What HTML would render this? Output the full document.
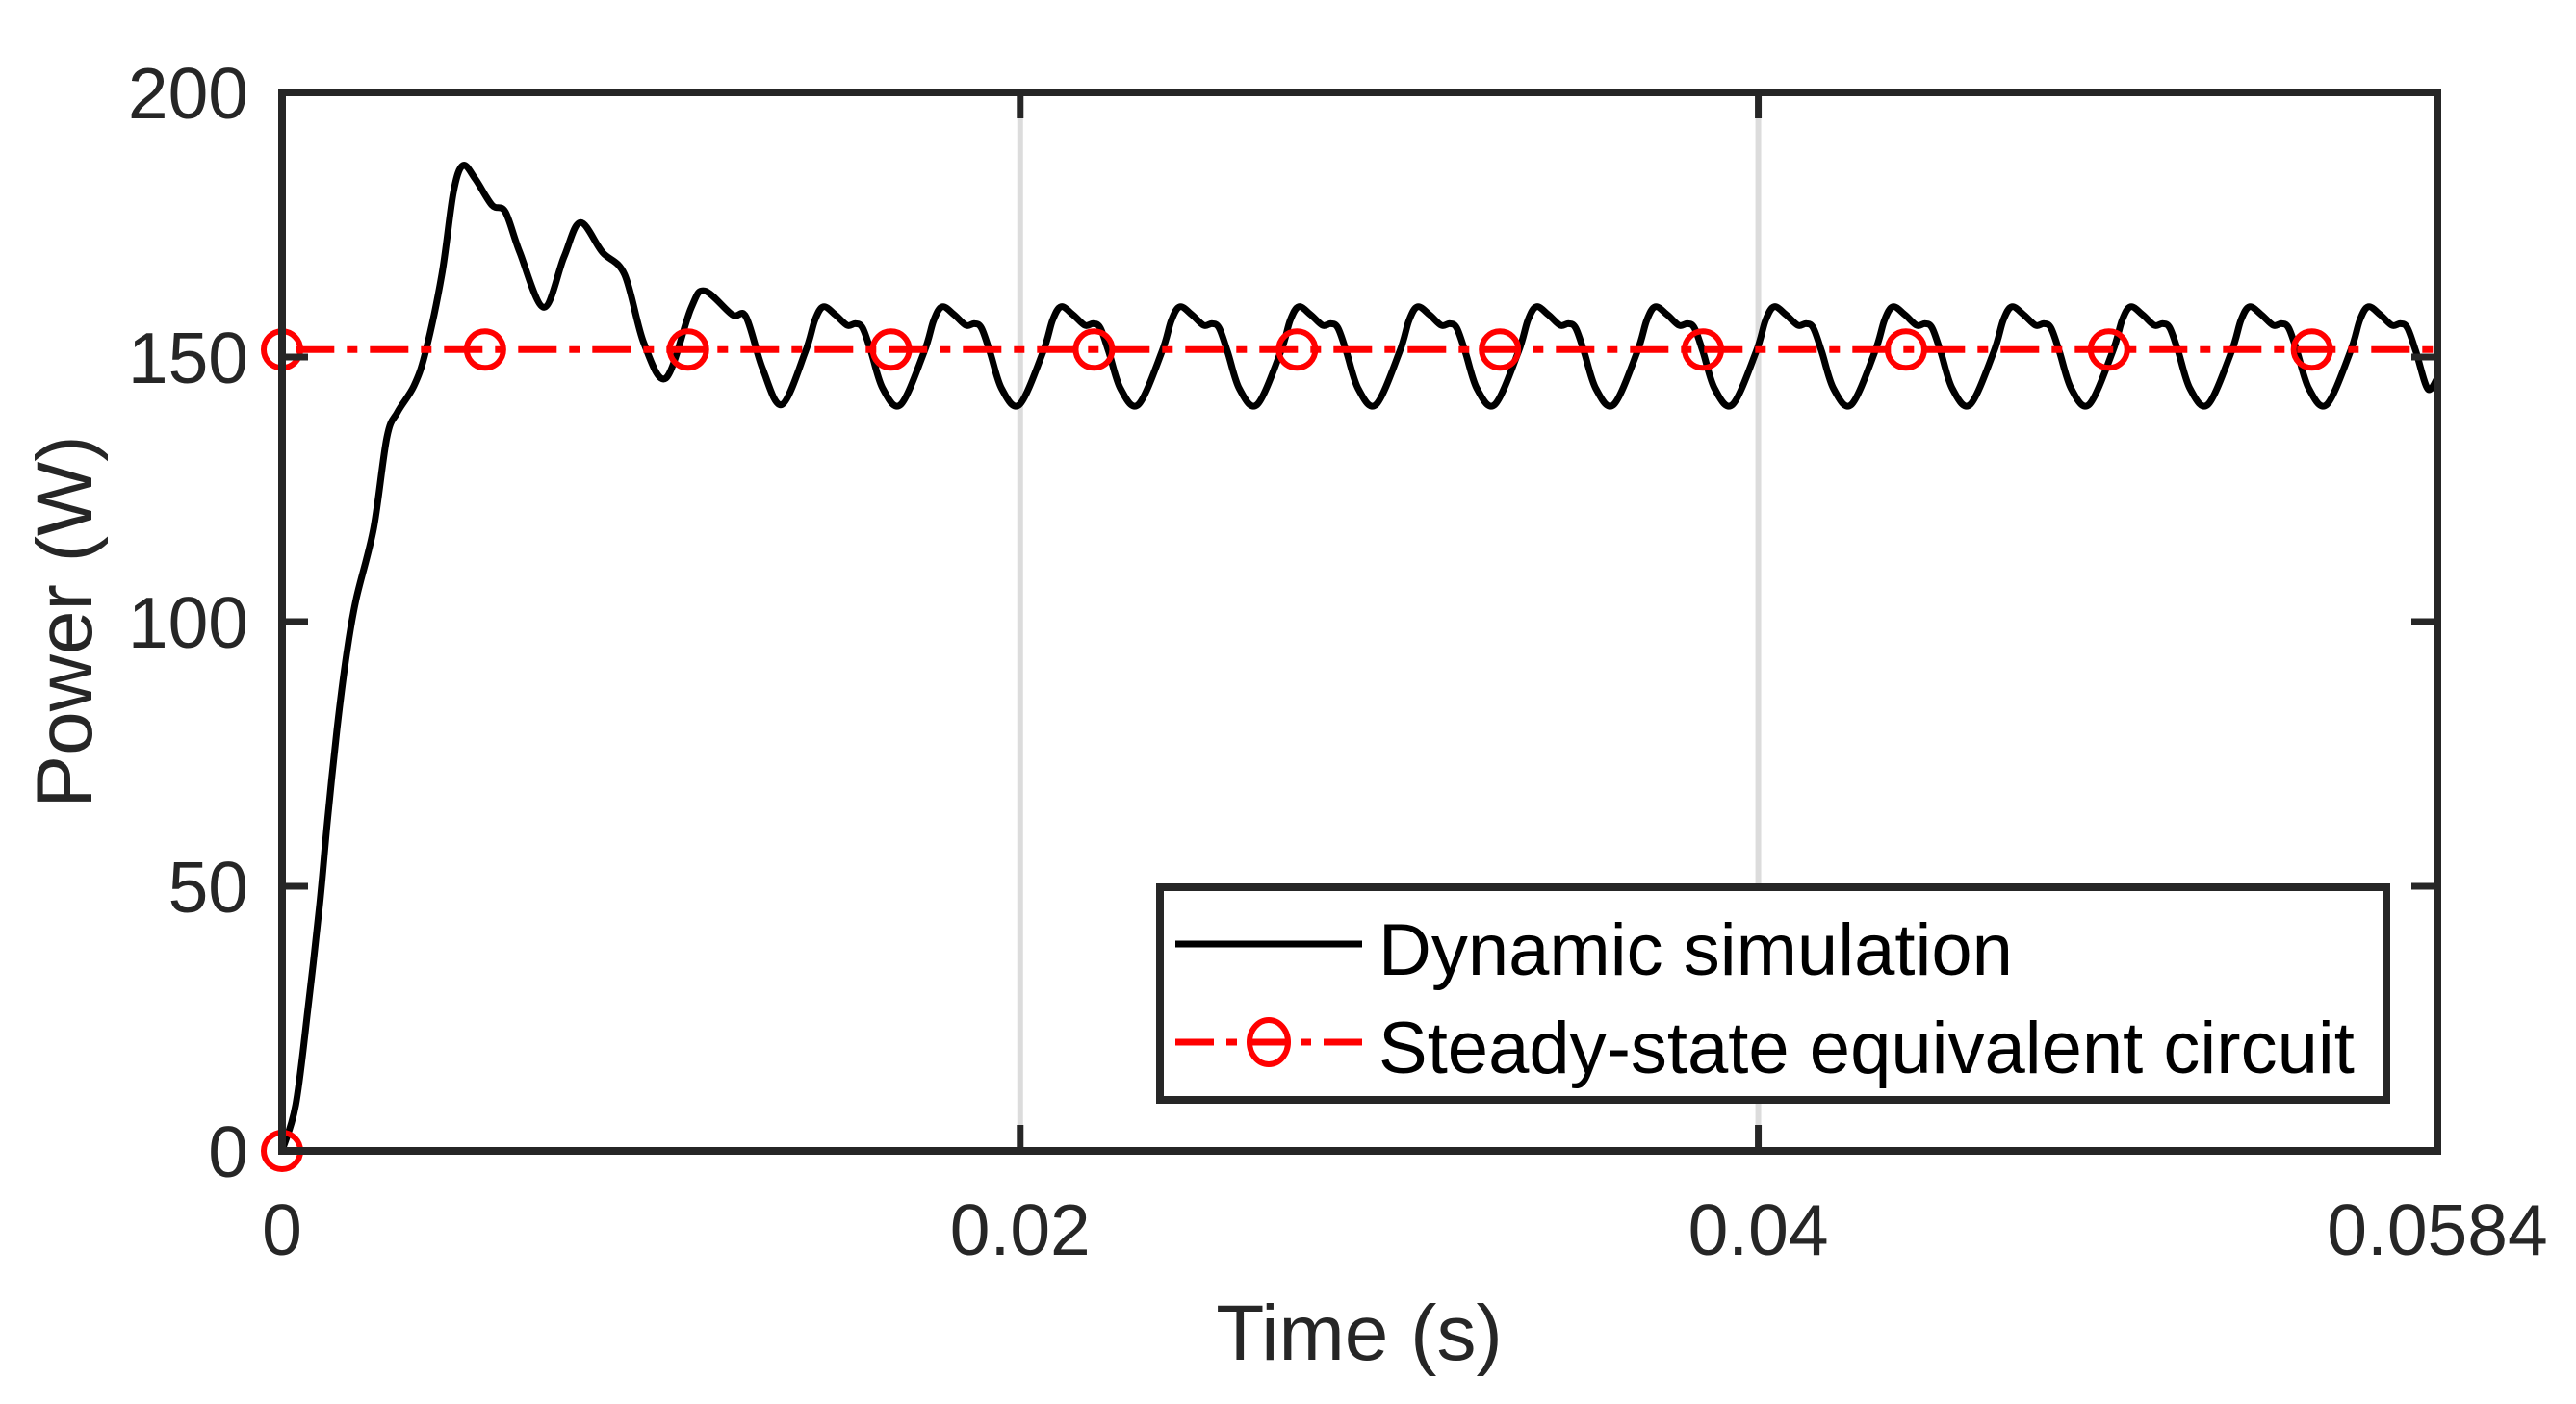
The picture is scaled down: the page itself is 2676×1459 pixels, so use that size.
<!DOCTYPE html>
<html><head><meta charset="utf-8"><style>
html,body{margin:0;padding:0;background:#fff;}
svg{display:block;font-family:"Liberation Sans",Arial,sans-serif;}
</style></head><body>
<svg id="chart" width="2676" height="1459" viewBox="0 0 2676 1459">
<rect x="0" y="0" width="2676" height="1459" fill="#fff"/>
<defs><clipPath id="plotclip"><rect x="293" y="96" width="2239" height="1100"/></clipPath></defs>
<g id="grid"></g>
<g id="series" clip-path="url(#plotclip)"></g>
<g id="markers"></g>
<g id="axes"></g>
<text x="1412" y="1413" font-size="82" fill="#262626" text-anchor="middle">Time (s)</text>
<text transform="translate(95,646) rotate(-90)" font-size="82" fill="#262626" text-anchor="middle">Power (W)</text>
<g>
<rect x="1205" y="922" width="1274" height="221" fill="#fff" stroke="#262626" stroke-width="8"/>
<line x1="1221" y1="981" x2="1415" y2="981" stroke="#000" stroke-width="7"/>
<text x="1432" y="1013" font-size="76" fill="#000">Dynamic simulation</text>
<line x1="1221" y1="1083" x2="1415" y2="1083" stroke="#ff0000" stroke-width="7" stroke-dasharray="40,13,11,13"/>
<ellipse cx="1318" cy="1083" rx="20" ry="23" fill="none" stroke="#ff0000" stroke-width="6"/>
<text x="1432" y="1115" font-size="76" fill="#000">Steady-state equivalent circuit</text>
</g>
</svg>
<script>
const xTicks = [0, 0.02, 0.04, 0.0584];
const xTickLabels = ["0", "0.02", "0.04", "0.0584"];
const yTicks = [0, 50, 100, 150, 200];
const yTickLabels = ["0", "50", "100", "150", "200"];
const dynTime = [0,.00037,.0007,.00102,.00123,.00149,.00175,.002,.00248,.00284,.00313,.00357,.00389,.00433,.00464,.0049,.00524,.00569,.00605,.00644,.00709,.00764,.00808,.00868,.00928,.0098,.0104,.01108,.01145,.0122,.01257,.01302,
.01354,.01418,.01444,.01467,.01499,.01531,.01554,.01573,.01596,.01628,
.01676,.0174,.01766,.01789,.01821,.01853,.01876,.01895,.01918,.0195,
.01998,.02062,.02088,.02111,.02143,.02175,.02198,.02217,.0224,.02272,
.0232,.02384,.0241,.02433,.02465,.02497,.0252,.02539,.02562,.02594,
.02642,.02706,.02732,.02755,.02787,.02819,.02842,.02861,.02884,.02916,
.02964,.03028,.03054,.03077,.03109,.03141,.03164,.03183,.03206,.03238,
.03286,.0335,.03376,.03399,.03431,.03463,.03486,.03505,.03528,.0356,
.03608,.03672,.03698,.03721,.03753,.03785,.03808,.03827,.0385,.03882,
.0393,.03994,.0402,.04043,.04075,.04107,.0413,.04149,.04172,.04204,
.04252,.04316,.04342,.04365,.04397,.04429,.04452,.04471,.04494,.04526,
.04574,.04638,.04664,.04687,.04719,.04751,.04774,.04793,.04816,.04848,
.04896,.0496,.04986,.05009,.05041,.05073,.05096,.05115,.05138,.0517,
.05218,.05282,.05308,.05331,.05363,.05395,.05418,.05437,.0546,.05492,
.0554,.05604,.0563,.05653,.05685,.05717,.0574,.05759,.05782,.05814,.0584];
const dynPower = [0,8.7,26.7,46.6,62.4,79.7,93.9,104,117.6,134.8,139.6,144.5,151,165.6,181,186.2,183.6,178.7,177.4,169.8,159.4,168.9,175.4,169.8,165.6,152.7,146,159.2,162.5,158,157.6,147.8,
141,151,157,159.5,158,156,156.3,155.5,151,144,
141,151,157,159.5,158,156,156.3,155.5,151,144,
141,151,157,159.5,158,156,156.3,155.5,151,144,
141,151,157,159.5,158,156,156.3,155.5,151,144,
141,151,157,159.5,158,156,156.3,155.5,151,144,
141,151,157,159.5,158,156,156.3,155.5,151,144,
141,151,157,159.5,158,156,156.3,155.5,151,144,
141,151,157,159.5,158,156,156.3,155.5,151,144,
141,151,157,159.5,158,156,156.3,155.5,151,144,
141,151,157,159.5,158,156,156.3,155.5,151,144,
141,151,157,159.5,158,156,156.3,155.5,151,144,
141,151,157,159.5,158,156,156.3,155.5,151,144,
141,151,157,159.5,158,156,156.3,155.5,151,144,
141,151,157,159.5,158,156,156.3,155.5,151,144,146];
const ssTime = [0,0,0.0055,0.011,0.0165,0.022,0.0275,0.033,0.0385,0.044,0.0495,0.055,0.0584];
const ssPower = [0,151.4,151.4,151.4,151.4,151.4,151.4,151.4,151.4,151.4,151.4,151.4,151.4];
const ssMarked = [1,1,1,1,1,1,1,1,1,1,1,1,0];

const NS = "http://www.w3.org/2000/svg";
const L = 293, R = 2532, T = 96, B = 1196;
const xMin = 0, xMax = 0.0584, yMin = 0, yMax = 200;
function xs(v){ return L + (v - xMin) / (xMax - xMin) * (R - L); }
function ys(v){ return B - (v - yMin) / (yMax - yMin) * (B - T); }
function mk(tag, attrs, parent){ const e = document.createElementNS(NS, tag); for (const k in attrs) e.setAttribute(k, attrs[k]); parent.appendChild(e); return e; }

const grid = document.getElementById('grid');
const axes = document.getElementById('axes');
xTicks.forEach((t, i) => {
  const x = xs(t);
  if (t > xMin && t < xMax) {
    const g = mk('line', {x1:x, y1:T, x2:x, y2:B, stroke:'#dcdcdc', 'stroke-width':6}, grid);
    
    
    const tb = mk('line', {x1:x, y1:B, x2:x, y2:B-27, stroke:'#262626', 'stroke-width':7}, axes);
    
    
    const tt = mk('line', {x1:x, y1:T, x2:x, y2:T+27, stroke:'#262626', 'stroke-width':7}, axes);
    
    
  }
  const lab = mk('text', {x:x, y:1304, 'font-size':75, fill:'#262626', 'text-anchor':'middle'}, axes);
  lab.textContent = xTickLabels[i];
  
  
});
yTicks.forEach((v, i) => {
  const y = ys(v);
  if (v > yMin && v < yMax) {
    const tl = mk('line', {x1:L, y1:y, x2:L+27, y2:y, stroke:'#262626', 'stroke-width':7}, axes);
    
    
    const tr = mk('line', {x1:R, y1:y, x2:R-27, y2:y, stroke:'#262626', 'stroke-width':7}, axes);
    
    
  }
  const lab = mk('text', {x:258, y:y+27, 'font-size':75, fill:'#262626', 'text-anchor':'end'}, axes);
  lab.textContent = yTickLabels[i];
  
  
});
const frame = mk('rect', {x:L, y:T, width:R-L, height:B-T, fill:'none', stroke:'#262626', 'stroke-width':8}, axes);



const pts = dynTime.map((t, i) => [xs(t), ys(dynPower[i])]);
let d = 'M' + pts[0][0] + ',' + pts[0][1];
for (let i = 0; i < pts.length - 1; i++) {
  const p0 = pts[Math.max(0, i-1)], p1 = pts[i], p2 = pts[i+1], p3 = pts[Math.min(pts.length-1, i+2)];
  const c1x = p1[0] + (p2[0]-p0[0])/6, c1y = p1[1] + (p2[1]-p0[1])/6;
  const c2x = p2[0] - (p3[0]-p1[0])/6, c2y = p2[1] - (p3[1]-p1[1])/6;
  d += ' C' + c1x.toFixed(1) + ',' + c1y.toFixed(1) + ' ' + c2x.toFixed(1) + ',' + c2y.toFixed(1) + ' ' + p2[0].toFixed(1) + ',' + p2[1].toFixed(1);
}
const series = document.getElementById('series');
const dyn = mk('path', {d:d, fill:'none', stroke:'#000', 'stroke-width':7, 'stroke-linejoin':'round'}, series);



const ssd = ssTime.map((t, i) => (i ? 'L' : 'M') + xs(t).toFixed(1) + ',' + ys(ssPower[i]).toFixed(1)).join(' ');
const ss = mk('path', {d:ssd, fill:'none', stroke:'#ff0000', 'stroke-width':7, 'stroke-dasharray':'40,13,11,13'}, series);



const markers = document.getElementById('markers');
ssTime.forEach((t, i) => {
  if (!ssMarked[i]) return;
  const c = mk('circle', {cx:xs(t), cy:ys(ssPower[i]), r:19, fill:'none', stroke:'#ff0000', 'stroke-width':6}, markers);
  
  
});
</script>
</body></html>
